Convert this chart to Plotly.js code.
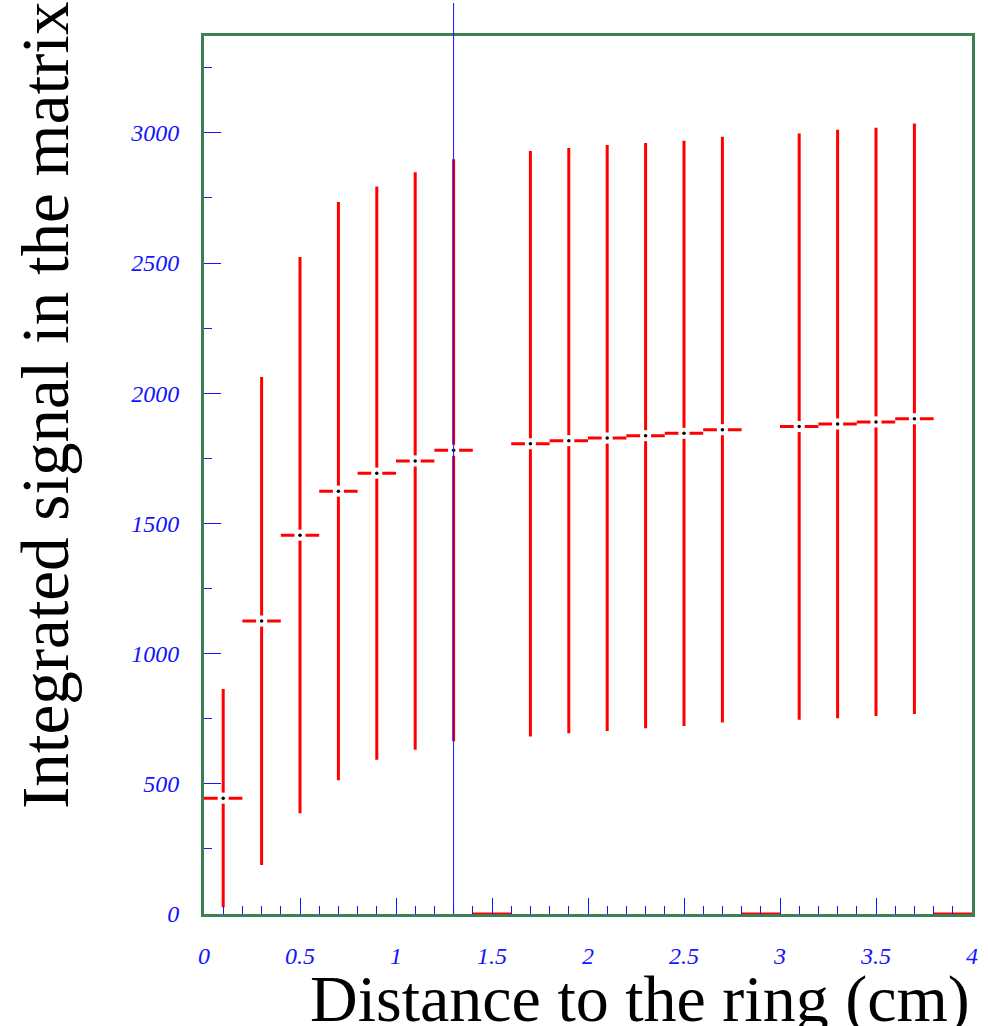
<!DOCTYPE html>
<html>
<head>
<meta charset="utf-8">
<script src="https://cdn.plot.ly/plotly-3.0.1.min.js"></script>
<style>html,body{margin:0;padding:0;background:#fff;}#chart{width:988px;height:1026px;}</style>
</head>
<body>
<div id="chart"></div>
<script>
// Bin centres (cm), bin contents and their errors
var binCenters = [0.1, 0.3, 0.5, 0.7, 0.9, 1.1, 1.3, 1.5, 1.7, 1.9, 2.1, 2.3, 2.5, 2.7, 2.9, 3.1, 3.3, 3.5, 3.7, 3.9];
var signalValues = [445, 1125, 1455, 1624, 1693, 1740, 1781, 0, 1806, 1818, 1828, 1837, 1846, 1860, 0, 1872, 1882, 1890, 1902, 0];
var signalErrors = [419, 937, 1068, 1110, 1101, 1109, 1118, 0, 1124, 1124, 1125, 1124, 1124, 1125, 0, 1126, 1130, 1130, 1134, 0];
var binHalfWidth = 0.1;
var markerLineX = 1.3;
var xTitle = 'Distance to the ring (cm)';
var yTitle = 'Integrated signal in the matrix';

var filledX = [], filledY = [];
for (var i = 0; i < binCenters.length; i++) {
  if (signalValues[i] > 0) { filledX.push(binCenters[i]); filledY.push(signalValues[i]); }
}

var red = 'rgb(255,0,0)';
var green = 'rgb(60,128,84)';
var blue = 'rgb(20,20,255)';

var traces = [
  {
    type: 'scatter', mode: 'markers', x: binCenters, y: signalValues,
    marker: {size: 1, color: 'rgba(0,0,0,0)'},
    error_y: {type: 'data', array: signalErrors, visible: true, color: red, thickness: 3, width: 0},
    error_x: {type: 'constant', value: binHalfWidth, visible: true, color: red, thickness: 3, width: 0},
    cliponaxis: false, hoverinfo: 'skip', showlegend: false
  },
  {
    type: 'scatter', mode: 'markers', x: filledX, y: filledY,
    marker: {symbol: 'square', size: 11, color: 'white', line: {width: 0}},
    hoverinfo: 'skip', showlegend: false
  },
  {
    type: 'scatter', mode: 'markers', x: filledX, y: filledY,
    marker: {symbol: 'circle', size: 3.5, color: 'black', line: {width: 0}},
    showlegend: false
  }
];

var tickFont = {family: 'Liberation Serif', size: 24, color: blue, style: 'italic'};

var layout = {
  width: 988, height: 1026,
  margin: {l: 204, r: 16, t: 36, b: 112, pad: 0},
  paper_bgcolor: 'white', plot_bgcolor: 'white',
  showlegend: false,
  xaxis: {
    range: [0, 4], tick0: 0, dtick: 0.5,
    showline: true, mirror: true, linecolor: green, linewidth: 3,
    ticks: 'inside', ticklen: 16, tickwidth: 1, tickcolor: blue,
    minor: {dtick: 0.1, tick0: 0, ticks: 'inside', ticklen: 8, tickwidth: 1, tickcolor: blue, showgrid: false},
    showgrid: false, zeroline: false,
    tickfont: tickFont, ticklabelstandoff: 18
  },
  yaxis: {
    range: [0, 3372], tick0: 0, dtick: 500,
    showline: true, mirror: true, linecolor: green, linewidth: 3,
    ticks: 'inside', ticklen: 17, tickwidth: 1, tickcolor: blue,
    minor: {dtick: 250, tick0: 0, ticks: 'inside', ticklen: 8, tickwidth: 1, tickcolor: blue, showgrid: false},
    showgrid: false, zeroline: false,
    tickfont: tickFont, ticklabelstandoff: 17
  },
  shapes: [
    {type: 'line', xref: 'x', yref: 'paper', x0: markerLineX, x1: markerLineX, y0: 0, y1: 1.0376,
     line: {color: blue, width: 1}, layer: 'above'}
  ],
  annotations: [
    {text: xTitle, xref: 'paper', yref: 'paper', x: 1.0, y: (914 - 999) / 878, xanchor: 'right', yanchor: 'middle',
     showarrow: false, font: {family: 'Liberation Serif', size: 66, color: 'black'}},
    {text: yTitle, xref: 'paper', yref: 'paper', x: (45 - 204) / 768, y: (914 - 406) / 878, xanchor: 'center', yanchor: 'middle',
     textangle: -90, showarrow: false, font: {family: 'Liberation Serif', size: 67, color: 'black'}}
  ]
};

Plotly.newPlot('chart', traces, layout, {displayModeBar: false, staticPlot: true});
</script>
</body>
</html>
